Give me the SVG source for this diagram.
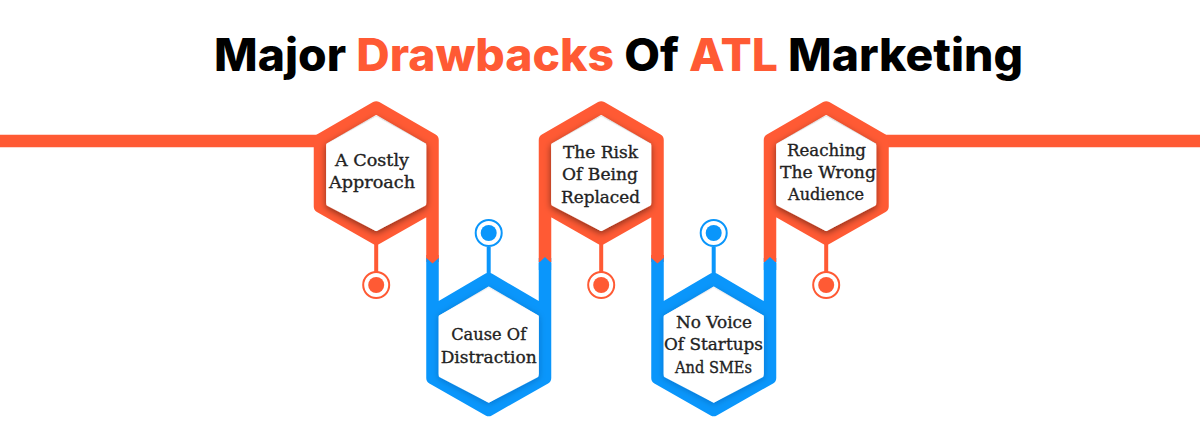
<svg xmlns="http://www.w3.org/2000/svg" width="1200" height="429" viewBox="0 0 1200 429">
<style>
.t{font-family:"Inter","Liberation Sans",sans-serif;font-weight:800;font-size:45px;fill:#000}
.a{fill:#ff5a34}
.l{font-family:"DejaVu Serif","Liberation Serif",serif;font-size:17px;font-weight:400;fill:#222;stroke:#222;stroke-width:.35;text-anchor:middle}
.o{stroke:#ff5a34}.b{stroke:#0a96fb}
.w{fill:none;stroke-width:12.500;stroke-linejoin:round}
.s{fill:none;stroke-width:4}
.r{fill:#fff;stroke-width:2}
.in{fill:#fff;stroke:#fff;stroke-width:4;stroke-linejoin:round}
.io{filter:url(#sh)}.ib{filter:url(#sb)}
.fo{fill:#ff5a34}.fb{fill:#0a96fb}
</style>
<defs>
<filter id="sh" x="-20%" y="-20%" width="140%" height="140%"><feDropShadow dx="0" dy="2" stdDeviation="3.500" flood-color="#000" flood-opacity="0.5"/></filter>
<filter id="sb" x="-20%" y="-20%" width="140%" height="140%"><feDropShadow dx="0" dy="1" stdDeviation="3" flood-color="#003" flood-opacity="0.25"/></filter>
<path id="hx" d="M0-54.500L48-28V30.500L0,55.500L-48,30.500V-28Z"/>
</defs>
<text class="t" x="214" y="71" textLength="809" lengthAdjust="spacingAndGlyphs">Major <tspan class="a">Drawbacks</tspan> Of <tspan class="a">ATL</tspan> Marketing</text>
<g id="connectors">
<path class="o w" d="M0 141H320"/>
<path class="o w" d="M882 141H1200"/>
<path class="o s" d="M376.200 240V272M601.200 240V272M826.200 240V272"/>
<path class="b s" d="M488.700 247V278M713.700 247V278"/>
</g>
<g id="node-1">
<path class="o w" d="M432.500 262V140L376.200 107.500L320 140V206.500L376.200 238.500L432.500 206.500"/>
<use href="#hx" class="in io" x="376.200" y="173.500"/>
<text class="l" x="372" y="166" textLength="74" lengthAdjust="spacingAndGlyphs">A Costly</text>
<text class="l" x="372" y="188" textLength="86" lengthAdjust="spacingAndGlyphs">Approach</text>
<circle class="r o" cx="376.200" cy="285" r="13"/><circle class="fo" cx="376.200" cy="285" r="8"/>
</g>
<g id="node-2">
<path class="b w" d="M432.500 258V378L488.700 410L545 378V258M432.500 312L488.700 279L545 312"/>
<path class="fo" d="M426.300 255H438.700V258L432.500 263.500L426.300 258Z"/>
<use href="#hx" class="in ib" x="488.700" y="345"/>
<text class="l" x="488.700" y="340" textLength="75" lengthAdjust="spacingAndGlyphs">Cause Of</text>
<text class="l" x="488.700" y="363" textLength="96" lengthAdjust="spacingAndGlyphs">Distraction</text>
<circle class="r b" cx="488.700" cy="233" r="13"/><circle class="fb" cx="488.700" cy="233" r="8"/>
</g>
<g id="node-3">
<path class="o w" d="M545 262V140L601.200 107.500L657.500 140V262M545 206.500L601.200 238.500L657.500 206.500"/>
<path class="fb" d="M538.800 263L545 257L551.200 263V270H538.800Z"/>
<path class="fo" d="M651.300 255H663.700V258L657.500 263.500L651.300 258Z"/>
<use href="#hx" class="in io" x="601.200" y="173.500"/>
<text class="l" x="600.500" y="158" textLength="75" lengthAdjust="spacingAndGlyphs">The Risk</text>
<text class="l" x="600" y="180" textLength="76" lengthAdjust="spacingAndGlyphs">Of Being</text>
<text class="l" x="600.500" y="203" textLength="79" lengthAdjust="spacingAndGlyphs">Replaced</text>
<circle class="r o" cx="601.200" cy="285" r="13"/><circle class="fo" cx="601.200" cy="285" r="8"/>
</g>
<g id="node-4">
<path class="b w" d="M657.500 258V378L713.700 410L770 378V258M657.500 312L713.700 279L770 312"/>
<path class="fo" d="M651.300 255H663.700V258L657.500 263.500L651.300 258Z"/>
<use href="#hx" class="in ib" x="713.700" y="345"/>
<text class="l" x="714" y="328" textLength="76" lengthAdjust="spacingAndGlyphs">No Voice</text>
<text class="l" x="713.500" y="350" textLength="99" lengthAdjust="spacingAndGlyphs">Of Startups</text>
<text class="l" x="713.500" y="373" textLength="77" lengthAdjust="spacingAndGlyphs">And SMEs</text>
<circle class="r b" cx="713.700" cy="233" r="13"/><circle class="fb" cx="713.700" cy="233" r="8"/>
</g>
<g id="node-5">
<path class="o w" d="M770 262V140L826.200 107.500L882.500 140V206.500L826.200 238.500L770 206.500"/>
<path class="fb" d="M763.800 263L770 257L776.200 263V270H763.800Z"/>
<use href="#hx" class="in io" x="826.200" y="173.500"/>
<text class="l" x="826.500" y="156" textLength="79" lengthAdjust="spacingAndGlyphs">Reaching</text>
<text class="l" x="828" y="178" textLength="96" lengthAdjust="spacingAndGlyphs">The Wrong</text>
<text class="l" x="826" y="200" textLength="76" lengthAdjust="spacingAndGlyphs">Audience</text>
<circle class="r o" cx="826.200" cy="285" r="13"/><circle class="fo" cx="826.200" cy="285" r="8"/>
</g>
</svg>
